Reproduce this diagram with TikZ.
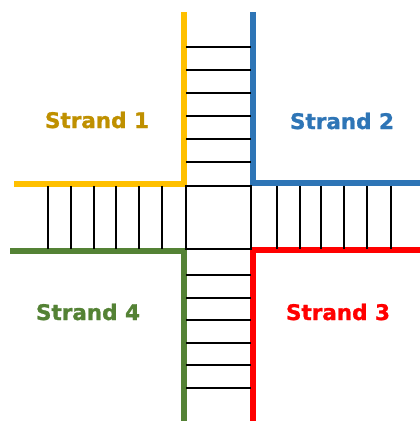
\documentclass[tikz,border=0pt]{standalone}
\usepackage{fontspec}
\setmainfont{DejaVu Sans}
\newfontfamily\lblfont{DejaVu Sans Bold}[FakeBold=1.2]
\definecolor{syellow}{HTML}{FFC000}
\definecolor{slabel}{HTML}{BF9000}
\definecolor{sblue}{HTML}{2E75B6}
\definecolor{sgreen}{HTML}{548235}
\definecolor{sred}{HTML}{FF0000}
\begin{document}
\begin{tikzpicture}[x=1pt,y=-1pt,
  strand/.style={line width=6pt,line join=miter},
  rung/.style={line width=2pt,black},
  label/.style={font=\lblfont\fontsize{21.5}{21.5}\selectfont,inner sep=0pt}]
\useasboundingbox (0,0) rectangle (420,421);
% strands
\draw[strand,syellow] (184,12) -- (184,184) -- (14,184);
\draw[strand,sblue] (253,12) -- (253,183) -- (420,183);
\draw[strand,sgreen] (10,251) -- (184,251) -- (184,421);
\draw[strand,sred] (420,250) -- (253,250) -- (253,421);
% central square
\draw[rung] (186,186) rectangle (251,249);
% top rungs
\foreach \y in {47,70,93,116,139,162} \draw[rung] (186,\y) -- (251,\y);
% bottom rungs
\foreach \y in {275,298,320,343,365,388} \draw[rung] (186,\y) -- (251,\y);
% left rungs
\foreach \x in {48,71,94,116,139,162} \draw[rung] (\x,186) -- (\x,249);
% right rungs
\foreach \x in {277,300,321,344,367,391} \draw[rung] (\x,186) -- (\x,249);
% labels
\node[label,text=slabel] (s1) at (97,120) {Strand 1};
\node[label,text=sblue] (s2) at (342,121) {Strand 2};
\node[label,text=sred] (s3) at (338,312) {Strand 3};
\node[label,text=sgreen] (s4) at (88,312) {Strand 4};
\end{tikzpicture}
\end{document}
